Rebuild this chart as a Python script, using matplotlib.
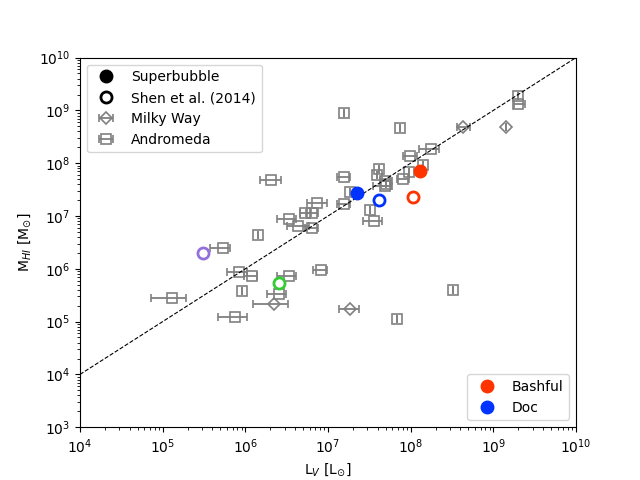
import numpy as np
import matplotlib
matplotlib.use('Agg')
import matplotlib.pyplot as plt
from matplotlib.lines import Line2D

# superbubbles (filled) and Shen et al. (2014) values (open)
sb_names = ['Bashful', 'Doc']
sb_colors = ['#ff3300', '#0033ff']
sb_L = [1.30e8, 2.24e7]
sb_M = [7.1e7, 2.78e7]

shen_colors = ['#ff3300', '#0033ff', '#9370db', '#33cc33']
shen_L = [1.07e8, 4.14e7, 3.08e5, 2.55e6]
shen_M = [2.34e7, 2.05e7, 2.02e6, 5.46e5]

# Milky Way satellites (xerr as lower/upper bounds, nan = no bar)
mw_L = [4.3e8, 1.42e9, 2.22e6, 1.85e7]
mw_M = [4.8e8, 4.8e8, 2.18e5, 1.75e5]
mw_Llo = [3.6e8, np.nan, 1.23e6, 1.37e7]
mw_Lhi = [5.2e8, np.nan, 3.31e6, 2.39e7]

# Andromeda satellites
m31_L = [2.07e6, 1.56e7, 1.85e7, 7.4e6, 1.56e7, 5.3e6, 6.4e6, 3.37e6, 4.34e6, 6.4e6,
         1.42e6, 5.37e5, 8.4e5, 1.20e6, 3.37e6, 8.2e6, 9.1e5, 2.55e6, 1.30e5, 7.5e5,
         1.56e7, 7.4e7, 1.99e9, 1.99e9, 1.76e8, 9.8e7, 1.41e8, 9.5e7, 8.1e7, 4.14e7,
         3.92e7, 4.9e7, 5.0e7, 4.9e7, 3.22e7, 3.60e7, 3.25e8, 6.8e7]
m31_M = [4.9e7, 5.4e7, 2.9e7, 1.8e7, 1.72e7, 1.16e7, 1.16e7, 8.9e6, 6.6e6, 6.0e6,
         4.3e6, 2.52e6, 8.8e5, 7.4e5, 7.4e5, 9.6e5, 3.85e5, 3.39e5, 2.83e5, 1.24e5,
         8.8e8, 4.6e8, 1.85e9, 1.30e9, 1.82e8, 1.34e8, 9.1e7, 6.7e7, 5.1e7, 7.9e7,
         6.1e7, 4.7e7, 3.96e7, 3.63e7, 1.32e7, 8.2e6, 4.0e5, 1.12e5]
m31_Llo = [1.50e6, 1.28e7, np.nan, 5.6e6, 1.28e7, 4.6e6, 5.4e6, 2.42e6, 3.19e6, 5.3e6,
           np.nan, 3.74e5, 6.0e5, 9.6e5, 2.42e6, 6.6e6, np.nan, 1.83e6, 7.2e4, 4.67e5,
           np.nan, np.nan, np.nan, 1.78e9, 1.26e8, 8.1e7, np.nan, np.nan, 6.8e7, np.nan,
           np.nan, 4.26e7, np.nan, 3.50e7, np.nan, 2.65e7, np.nan, np.nan]
m31_Lhi = [2.70e6, 1.85e7, np.nan, 9.7e6, 1.85e7, 6.2e6, 7.6e6, 4.1e6, 5.9e6, 7.6e6,
           np.nan, 6.5e5, 1.05e6, 1.38e6, 4.1e6, 9.7e6, np.nan, 3.1e6, 1.91e5, 1.05e6,
           np.nan, np.nan, np.nan, 2.42e9, 2.20e8, 1.19e8, np.nan, np.nan, 9.5e7, np.nan,
           np.nan, 5.9e7, np.nan, 5.9e7, np.nan, 4.5e7, np.nan, np.nan]


def xerr_of(x, lo, hi):
    x = np.array(x)
    lo = np.array(lo)
    hi = np.array(hi)
    low = np.where(np.isnan(lo), 0, x - lo)
    high = np.where(np.isnan(hi), 0, hi - x)
    return [low, high]


fig, ax = plt.subplots(figsize=(6.4, 4.8), dpi=100)

eb_m31 = ax.errorbar(m31_L, m31_M, xerr=xerr_of(m31_L, m31_Llo, m31_Lhi), fmt='s',
                     mfc='none', mec='gray', ecolor='gray', elinewidth=1.3, mew=1.2,
                     capsize=3, capthick=1.3, ms=7, zorder=2)
eb_mw = ax.errorbar(mw_L, mw_M, xerr=xerr_of(mw_L, mw_Llo, mw_Lhi), fmt='D',
                    mfc='none', mec='gray', ecolor='gray', elinewidth=1.3, mew=1.2,
                    capsize=3, capthick=1.3, ms=6.5, zorder=2)

ax.plot([1e4, 1e10], [1e4, 1e10], 'k--', lw=0.8, zorder=3)

for L, M, c in zip(shen_L, shen_M, shen_colors):
    ax.plot(L, M, 'o', mfc='none', mec=c, mew=2, ms=8, zorder=4)

sb_handles = []
for L, M, c, n in zip(sb_L, sb_M, sb_colors, sb_names):
    h, = ax.plot(L, M, 'o', color=c, ms=9, zorder=5, label=n)
    sb_handles.append(h)

ax.set_xscale('log')
ax.set_yscale('log')
ax.set_xlim(1e4, 1e10)
ax.set_ylim(1e3, 1e10)
ax.set_xlabel(r'L$_V$ [L$_{\odot}$]')
ax.set_ylabel(r'M$_{HI}$ [M$_{\odot}$]')

h_sb = Line2D([], [], marker='o', color='k', ls='none', ms=9)
h_shen = Line2D([], [], marker='o', mfc='none', mec='k', mew=2, ls='none', ms=8)
leg1 = ax.legend([h_sb, h_shen, eb_mw, eb_m31],
                 ['Superbubble', 'Shen et al. (2014)', 'Milky Way', 'Andromeda'],
                 loc='upper left')
ax.add_artist(leg1)
ax.legend(handles=sb_handles, loc='lower right')

plt.savefig('out.png', dpi=100)
